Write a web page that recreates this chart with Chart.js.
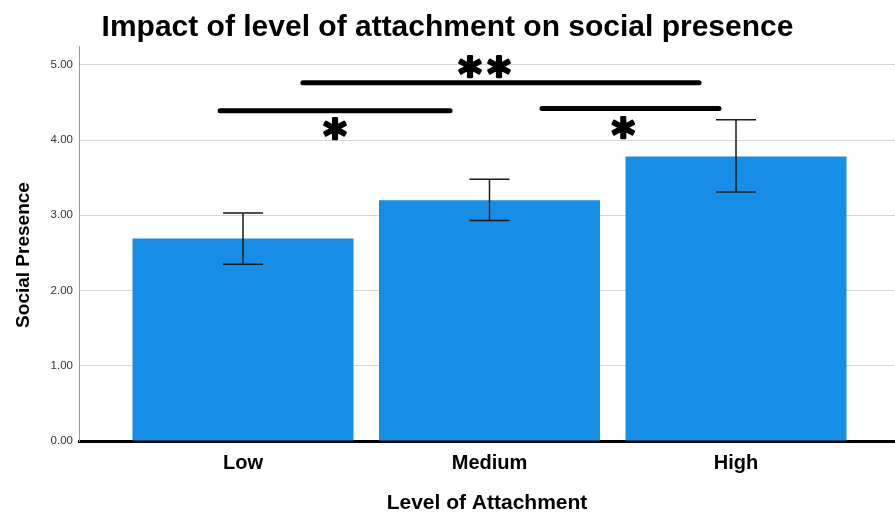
<!DOCTYPE html>
<html><head><meta charset="utf-8">
<script src="https://cdn.jsdelivr.net/npm/chart.js@4.4.0/dist/chart.umd.min.js"></script>
<style>html,body{margin:0;padding:0;background:#fff}#wrap{width:895px;height:513px}</style>
</head><body><div id="wrap"><canvas id="c" width="895" height="513"></canvas></div>
<script>
const categories = ['Low', 'Medium', 'High'];
const categoryPositions = [1, 2, 3];
const meanValues = [2.69, 3.20, 3.78];
const ciLower = [2.35, 2.93, 3.31];
const ciUpper = [3.03, 3.48, 4.27];
const yTickValues = [0, 1, 2, 3, 4, 5];
const sigFrom = [0.907, 1.243, 2.213];
const sigTo = [1.840, 2.850, 2.931];
const sigLevel = [4.39, 4.76, 4.42];
const sigLabels = ['*', '**', '*'];
const sigLabelX = [1.373, 1.98, 2.543];
const sigLabelY = [4.16, 4.98, 4.17];

const FONT = "'Liberation Sans', Arial, sans-serif";
Chart.defaults.font.family = FONT;

const annotPlugin = {
  id: 'annot',
  afterDatasetsDraw(chart) {
    const ctx = chart.ctx, xs = chart.scales.x, ys = chart.scales.y;
    ctx.save();
    // error bars
    ctx.strokeStyle = '#1a1a1a';
    ctx.lineWidth = 1.5;
    for (let i = 0; i < categories.length; i++) {
      const x = xs.getPixelForValue(categoryPositions[i]);
      const yl = ys.getPixelForValue(ciLower[i]);
      const yh = ys.getPixelForValue(ciUpper[i]);
      ctx.beginPath();
      ctx.moveTo(x, yl); ctx.lineTo(x, yh);
      ctx.moveTo(x - 20, yl); ctx.lineTo(x + 20, yl);
      ctx.moveTo(x - 20, yh); ctx.lineTo(x + 20, yh);
      ctx.stroke();
    }
    // significance lines
    ctx.strokeStyle = '#000';
    ctx.lineWidth = 5;
    ctx.lineCap = 'round';
    for (let i = 0; i < sigLabels.length; i++) {
      const y = ys.getPixelForValue(sigLevel[i]);
      ctx.beginPath();
      ctx.moveTo(xs.getPixelForValue(sigFrom[i]), y);
      ctx.lineTo(xs.getPixelForValue(sigTo[i]), y);
      ctx.stroke();
    }
    ctx.fillStyle = '#000';
    ctx.strokeStyle = '#000';
    ctx.lineWidth = 2.5;
    ctx.lineJoin = 'round';
    ctx.font = "bold 44px 'DejaVu Sans', sans-serif";
    ctx.textAlign = 'center';
    ctx.textBaseline = 'alphabetic';
    try { ctx.letterSpacing = '6px'; } catch (e) {}
    for (let i = 0; i < sigLabels.length; i++) {
      const m = ctx.measureText(sigLabels[i]);
      const cx = xs.getPixelForValue(sigLabelX[i]) + 3;
      const cy = ys.getPixelForValue(sigLabelY[i]);
      const off = (m.actualBoundingBoxAscent - m.actualBoundingBoxDescent) / 2;
      ctx.fillText(sigLabels[i], cx, cy + off);
      ctx.strokeText(sigLabels[i], cx, cy + off);
    }
    ctx.restore();
  },
  afterDraw(chart) {
    const ctx = chart.ctx;
    ctx.save();
    ctx.translate(24, 255);
    ctx.rotate(-Math.PI / 2);
    ctx.font = 'bold 19px ' + FONT;
    ctx.fillStyle = '#000';
    ctx.textAlign = 'center';
    ctx.textBaseline = 'middle';
    ctx.fillText('Social Presence', 0, 0);
    ctx.restore();
  }
};

new Chart(document.getElementById('c'), {
  type: 'bar',
  data: {
    datasets: [{
      data: categoryPositions.map((p, i) => ({ x: p, y: meanValues[i] })),
      backgroundColor: '#168ee6',
      borderWidth: 0,
      categoryPercentage: 1,
      barPercentage: 0.8966
    }]
  },
  options: {
    responsive: false,
    animation: false,
    devicePixelRatio: 1,
    layout: { padding: 0 },
    plugins: {
      legend: { display: false },
      tooltip: { enabled: false },
      title: {
        display: true,
        text: 'Impact of level of attachment on social presence',
        color: '#000',
        font: { size: 30, weight: 'bold', family: FONT },
        padding: { top: 10, bottom: 0 }
      }
    },
    scales: {
      x: {
        type: 'linear',
        min: 0.3347,
        max: 3.645,
        offset: false,
        grid: { display: false, drawTicks: false },
        border: { display: true, color: '#000', width: 3 },
        afterBuildTicks: s => { s.ticks = categoryPositions.map(v => ({ value: v })); },
        afterFit: s => { s.height = 72; },
        ticks: {
          callback: v => categories[categoryPositions.indexOf(v)],
          color: '#000',
          font: { size: 20, weight: 'bold', family: FONT },
          padding: 10,
          autoSkip: false,
          maxRotation: 0
        },
        title: {
          display: true,
          text: 'Level of Attachment',
          color: '#000',
          font: { size: 21, weight: 'bold', family: FONT },
          padding: { top: 0, bottom: -3 }
        }
      },
      y: {
        min: 0,
        max: 5.25,
        afterBuildTicks: s => { s.ticks = yTickValues.map(v => ({ value: v })); },
        afterFit: s => { s.width = 79; },
        grid: { color: '#d6d6d6', lineWidth: 1, drawTicks: false },
        border: { display: true, color: '#9a9a9a', width: 1 },
        ticks: {
          callback: v => Number(v).toFixed(2),
          color: '#333',
          font: { size: 11.5, family: FONT },
          padding: 6
        }
      }
    }
  },
  plugins: [annotPlugin]
});
</script>
</body></html>
